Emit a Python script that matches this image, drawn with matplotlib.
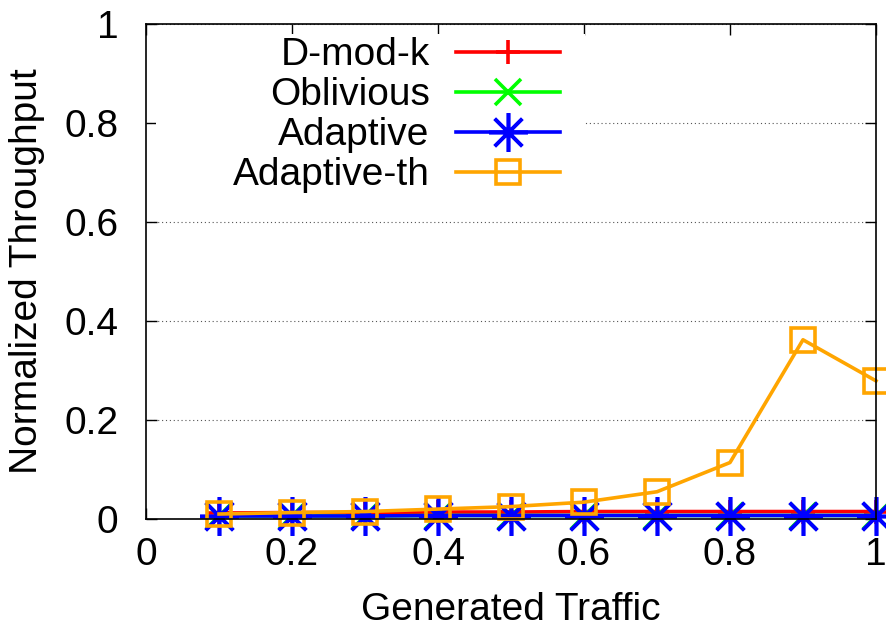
import matplotlib
matplotlib.use('Agg')
import matplotlib.pyplot as plt
from matplotlib.patches import Rectangle

plt.rcParams['font.family'] = ['Liberation Sans', 'DejaVu Sans']

# data
traffic = [0.1, 0.2, 0.3, 0.4, 0.5, 0.6, 0.7, 0.8, 0.9, 1.0]
dmodk = [0.012, 0.013, 0.013, 0.014, 0.014, 0.015, 0.015, 0.015, 0.015, 0.015]
oblivious = [0.006, 0.006, 0.006, 0.007, 0.007, 0.007, 0.007, 0.007, 0.007, 0.007]
adaptive = [0.006, 0.006, 0.006, 0.007, 0.007, 0.007, 0.007, 0.007, 0.007, 0.007]
adaptive_th = [0.010, 0.013, 0.015, 0.020, 0.025, 0.034, 0.055, 0.114, 0.362, 0.279]

series = [
    ('D-mod-k', dmodk, '#ff0000', '+', 17),
    ('Oblivious', oblivious, '#00ff00', 'x', 19),
    ('Adaptive', adaptive, '#0000ff', (8, 2, 0), 28),
    ('Adaptive-th', adaptive_th, '#ffa500', 's', 17.5),
]

fig = plt.figure(figsize=(8.86, 6.36), dpi=100)
ax = fig.add_axes([0.1648, 0.184, 0.8239, 0.7783])

for name, vals, col, mk, ms in series:
    ax.plot(traffic, vals, color=col, lw=2.6, marker=mk, markersize=ms,
            markeredgewidth=2.6, fillstyle='none', label=name, clip_on=False)

ax.set_xlim(0, 1)
ax.set_ylim(0, 1)
ax.set_xticks([0, 0.2, 0.4, 0.6, 0.8, 1.0])
ax.set_xticklabels(['0', '0.2', '0.4', '0.6', '0.8', '1'])
ax.set_yticks([0, 0.2, 0.4, 0.6, 0.8, 1.0])
ax.set_yticklabels(['0', '0.2', '0.4', '0.6', '0.8', '1'])
ax.tick_params(direction='in', length=8, width=1, top=True, right=True,
               labelsize=28, pad=20)
ax.tick_params(axis='x', pad=13)
ax.yaxis.grid(True, linestyle=(0, (1, 2.5)), color='#555555', lw=0.8)
for s in ax.spines.values():
    s.set_linewidth(1.2)

# opaque key area (hides the grid behind the legend, keeps the tick marks)
ax.add_patch(Rectangle((0.013, 0.665), 0.588, 0.315, transform=ax.transAxes,
                       facecolor='white', edgecolor='none', zorder=1.8))

ax.set_xlabel('Generated Traffic', fontsize=28, labelpad=14)
ax.set_ylabel('Normalized Throughput', fontsize=28, labelpad=14)

leg = ax.legend(loc='upper right', bbox_to_anchor=(0.594, 1.012), markerfirst=False,
                alignment='right', fontsize=28, handlelength=2.67, handletextpad=0.69,
                labelspacing=0.1, borderpad=0, frameon=False)

fig.savefig('out.png', dpi=100)
